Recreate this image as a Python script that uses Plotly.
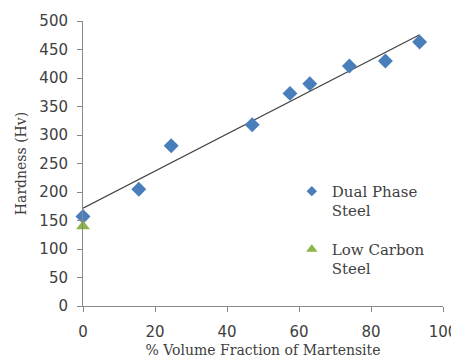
import numpy as np
import plotly.graph_objects as go

# Data
dp_vf = [0, 15.5, 24.5, 47, 57.5, 63, 74, 84, 93.5]
dp_hv = [157, 205, 281, 318, 373, 390, 421, 430, 463]
lc_vf = [0]
lc_hv = [140]

x_ticks = [0, 20, 40, 60, 80, 100]
y_ticks = [0, 50, 100, 150, 200, 250, 300, 350, 400, 450, 500]

# Linear trendline (least squares) of the dual phase series
slope, intercept = np.polyfit(dp_vf, dp_hv, 1)
trend_x = [min(dp_vf), max(dp_vf)]
trend_y = [slope * v + intercept for v in trend_x]

serif = "DejaVu Serif"
sans = "DejaVu Sans"
blue = "#4A7EBB"
green = "#8DB44A"

fig = go.Figure()
fig.add_trace(go.Scatter(
    x=trend_x, y=trend_y, mode="lines",
    line=dict(color="#404040", width=1.2),
    showlegend=False, hoverinfo="skip", cliponaxis=False,
))
fig.add_trace(go.Scatter(
    x=dp_vf, y=dp_hv, mode="markers", name="Dual Phase<br>Steel",
    marker=dict(symbol="diamond", size=11.5, color=blue),
    showlegend=False, cliponaxis=False,
))
fig.add_trace(go.Scatter(
    x=lc_vf, y=lc_hv, mode="markers", name="Low Carbon<br>Steel",
    marker=dict(symbol="triangle-up", size=12, color=green),
    showlegend=False, cliponaxis=False,
))
# legend entries (smaller legend symbols, as in the reference)
fig.add_trace(go.Scatter(
    x=[None], y=[None], mode="markers", name="Dual Phase<br>Steel",
    marker=dict(symbol="diamond", size=8, color=blue),
    legendgroup="a", showlegend=True,
))
fig.add_trace(go.Scatter(
    x=[None], y=[None], mode="markers", name="Low Carbon<br>Steel",
    marker=dict(symbol="triangle-up", size=10, color=green),
    legendgroup="b", showlegend=True,
))

axis_common = dict(
    showgrid=False, zeroline=False, showline=True,
    linecolor="#898989", linewidth=1,
    ticks="outside", ticklen=5, tickcolor="#898989",
    tickfont=dict(family=sans, size=15, color="#404040"),
    automargin=False,
)

fig.update_layout(
    width=451, height=350,
    margin=dict(l=75, r=16, t=13, b=52),
    paper_bgcolor="white", plot_bgcolor="white",
    xaxis=dict(range=[0, 100], tickvals=x_ticks, ticklabelstandoff=7,
               title=dict(text="% Volume Fraction of Martensite",
                          font=dict(family=serif, size=14, color="#404040"),
                          standoff=7),
               **axis_common),
    yaxis=dict(range=[0, 500], tickvals=y_ticks, ticklabelstandoff=6,
               title=dict(text="Hardness (Hv)",
                          font=dict(family=serif, size=14, color="#404040"),
                          standoff=9),
               **axis_common),
    legend=dict(x=0.58, y=0.46, xanchor="left", yanchor="top",
                font=dict(family=serif, size=15, color="#404040"),
                valign="top", tracegroupgap=16, itemwidth=30,
                bgcolor="rgba(0,0,0,0)"),
    showlegend=True,
)

fig.write_html("out.html")
